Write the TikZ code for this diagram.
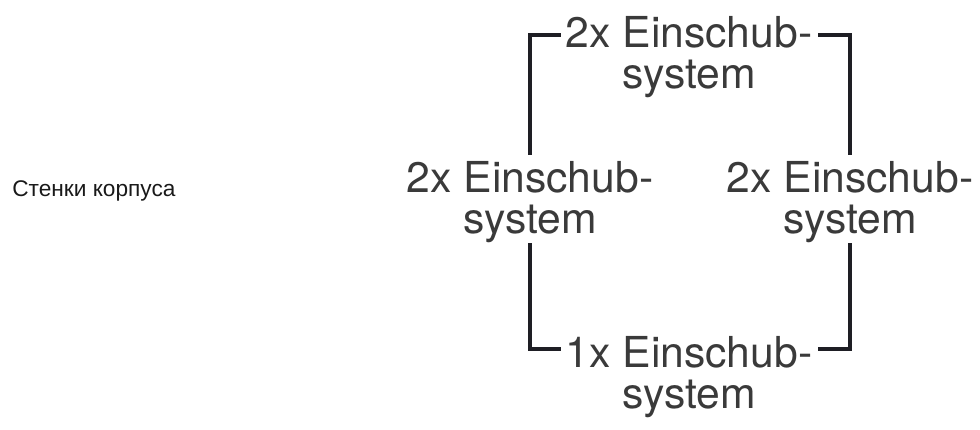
\documentclass[tikz,border=0pt]{standalone}
\usepackage{fontspec}
\setmainfont{Liberation Sans}
\newfontfamily\labelfont{TeX Gyre Heros}
\definecolor{textgray}{HTML}{3A3A3A}
\definecolor{linegray}{HTML}{1E1E24}
\tikzset{
  partlabel/.style={font=\labelfont\fontsize{32}{30.75}\selectfont, text=textgray,
    align=center, inner sep=0pt, anchor=base},
  bracket/.style={draw=linegray, line width=2.3pt, line cap=butt, line join=miter},
}
\begin{document}
\begin{tikzpicture}[x=0.75pt, y=-0.75pt]
    \useasboundingbox (0,0) rectangle (980,429);

    % labels (base = last line)
    \node[inner sep=0pt, anchor=base west, font=\fontsize{17}{20}\selectfont, text=black!90] (walls) at (12,196) {Стенки корпуса};
    \node[partlabel] (top) at (689,88) {2x Einschub-\\system};
    \node[partlabel] (lft) at (530,233) {2x Einschub-\\system};
    \node[partlabel] (rgt) at (850,233) {2x Einschub-\\system};
    \node[partlabel] (bot) at (689,408) {1x Einschub-\\system};

    % bracket corners
    \coordinate (tl) at (530,35);
    \coordinate (tr) at (850,35);
    \coordinate (bl) at (530,349);
    \coordinate (br) at (850,349);

    \draw[bracket] ([xshift=23]tl) -- (tl) -- (lft.north |- 0,155);
    \draw[bracket] ([xshift=-24]tr) -- (tr) -- (rgt.north |- 0,155);
    \draw[bracket] (lft.south |- 0,243) -- (bl) -- ([xshift=23]bl);
    \draw[bracket] (rgt.south |- 0,243) -- (br) -- ([xshift=-24]br);
\end{tikzpicture}
\end{document}
